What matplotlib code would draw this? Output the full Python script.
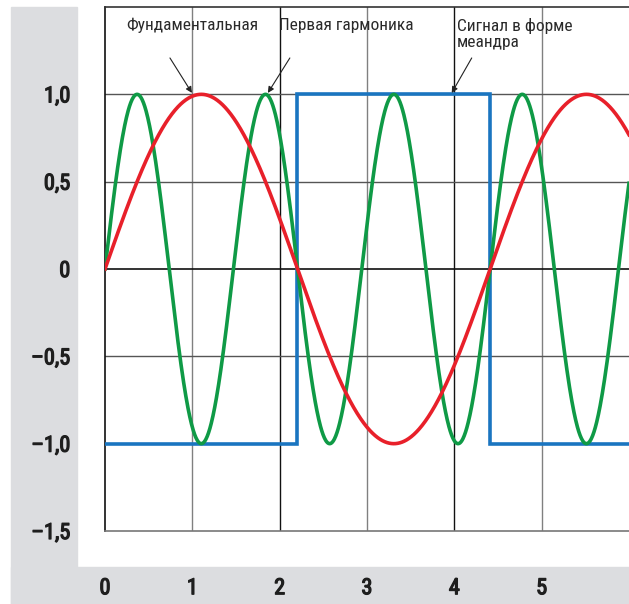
import numpy as np
import matplotlib
matplotlib.use("Agg")
import matplotlib.pyplot as plt
import matplotlib.patheffects as pe
from matplotlib.patches import Rectangle
from matplotlib import font_manager

names = {f.name for f in font_manager.fontManager.ttflist}
cands = ['Roboto Condensed', 'PT Sans Narrow', 'Fira Sans Condensed', 'IBM Plex Sans Condensed',
         'Open Sans Condensed', 'Liberation Sans Narrow', 'Archivo Narrow']
chosen = [c for c in cands if c in names][:1]
plt.rcParams['font.family'] = chosen + ['Liberation Sans', 'DejaVu Sans']

# ---- data ----
x_ticks = [0, 1, 2, 3, 4, 5]
x_tick_labels = ['0', '1', '2', '3', '4', '5']
y_ticks = [1.0, 0.5, 0, -0.5, -1.0, -1.5]
y_tick_labels = ['1,0', '0,5', '0', '\u20130,5', '\u20131,0', '\u20131,5']
fund_period = 4.41        # period of the fundamental
fund_amp = 1.0
harm_order = 3            # harmonic multiple
harm_amp = 1.0
square_x = [0, 2.2, 2.2, 4.41, 4.41, 6.0]
square_y = [-1, -1, 1, 1, -1, -1]
labels = ['Фундаментальная', 'Первая гармоника', 'Сигнал в форме\nмеандра']

W, H = 629, 604
fig = plt.figure(figsize=(W / 100, H / 100), dpi=100)
fig.patch.set_facecolor('white')

gray = '#dcdde0'
fig.add_artist(Rectangle((11 / W, 0), (77 - 11) / W, (604 - 7) / H,
                         transform=fig.transFigure, color=gray, zorder=-5))
fig.add_artist(Rectangle((11 / W, 0), (W - 11) / W, (604 - 567) / H,
                         transform=fig.transFigure, color=gray, zorder=-5))

ax = fig.add_axes([105 / W, (604 - 531) / H, (629 - 105) / W, (531 - 7) / H])
ax.set_zorder(1)
ax.set_facecolor('white')
ax.set_xlim(0, 6.0)
ax.set_ylim(-1.5, 1.5)

vcolors = {1: '#808080', 2: '#111111', 3: '#808080', 4: '#111111', 5: '#808080'}
for xv, c in vcolors.items():
    ax.axvline(xv, color=c, lw=1.0, zorder=1)
for yv in [1.0, 0.5, -0.5]:
    ax.axhline(yv, color='#555555', lw=1.0, zorder=1)
ax.axhline(0, color='#111111', lw=1.2, zorder=1)

ax.spines['right'].set_visible(False)
ax.spines['left'].set_color('#111111')
ax.spines['left'].set_linewidth(1.2)
ax.spines['top'].set_color('#333333')
ax.spines['top'].set_linewidth(1.2)
ax.spines['bottom'].set_color('#777777')
ax.spines['bottom'].set_linewidth(1.2)

x = np.linspace(0, 6.0, 1200)
fund = fund_amp * np.sin(2 * np.pi * x / fund_period)
harm = harm_amp * np.sin(2 * np.pi * harm_order * x / fund_period)

ax.plot(square_x, square_y, color='#1a75c0', lw=2.6, zorder=3, solid_joinstyle='miter')
ax.plot(x, harm, color='#0f9a46', lw=2.6, zorder=4)
ax.plot(x, fund, color='#e8202a', lw=2.6, zorder=5)

tick_color = '#1e1e1e'
ax.set_xticks(x_ticks)
ax.set_xticklabels(x_tick_labels)
ax.set_yticks(y_ticks)
ax.set_yticklabels(y_tick_labels)
ax.tick_params(axis='both', length=0, labelsize=16, colors=tick_color)
ax.tick_params(axis='y', pad=25)
ax.tick_params(axis='x', pad=34)
for t in ax.get_xticklabels() + ax.get_yticklabels():
    t.set_fontweight('normal')
    t.set_path_effects([pe.withStroke(linewidth=0.9, foreground=tick_color)])

tkw = dict(fontsize=12.5, color='#2a2a2a', va='top', ha='left')
arrow = dict(arrowstyle='-|>', color='#222222', lw=0.8, mutation_scale=9,
             shrinkA=0, shrinkB=0)


def px(xp, yp):
    return ((xp - 105) / 87.4, 1.5 - (yp - 7) / 87.4 * 0.5)


ax.text(*px(126, 18), labels[0], **tkw, clip_on=False)
ax.text(*px(279, 18), labels[1], **tkw, clip_on=False)
ax.text(*px(457, 18), labels[2], **tkw, clip_on=False, linespacing=1.1)
ax.annotate('', xy=px(192, 93), xytext=px(170, 58), arrowprops=arrow)
ax.annotate('', xy=px(268, 93), xytext=px(290, 58), arrowprops=arrow)
ax.annotate('', xy=px(452, 93), xytext=px(472, 58), arrowprops=arrow)

fig.savefig('out.png', dpi=100, facecolor='white')
